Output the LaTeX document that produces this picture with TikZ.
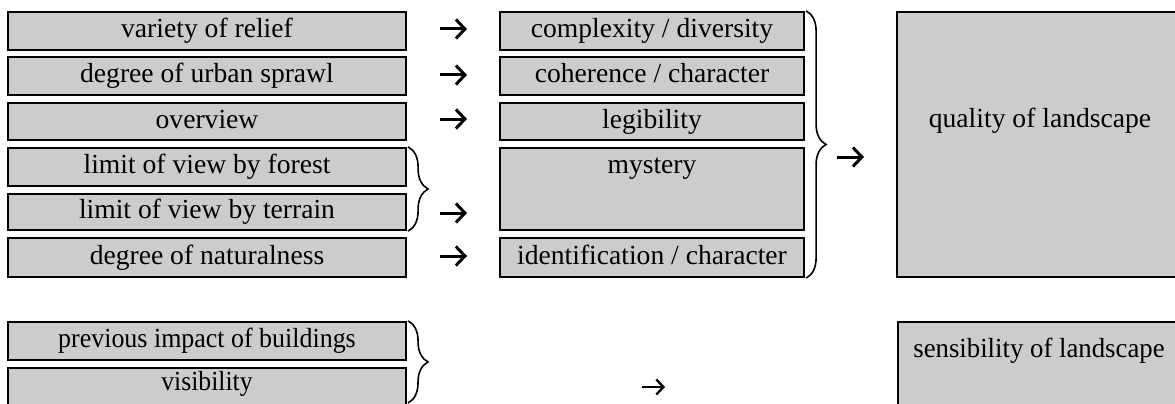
\documentclass[tikz,border=0pt]{standalone}
\usepackage{fontspec}
\setmainfont{Liberation Serif}
\usepackage{graphicx}
\usetikzlibrary{arrows.meta,decorations.pathreplacing}
\definecolor{cellgray}{gray}{0.8}
\begin{document}
\begin{tikzpicture}[x=1pt,y=-1pt,
  txt/.style={inner sep=0pt, text height=19pt, text depth=6pt,
              font=\fontsize{27.6}{32}\selectfont},
  cell/.style={txt, draw=black, line width=2.2pt, fill=cellgray},
  lcell/.style={cell, minimum width=398pt},
  mcell/.style={cell, minimum width=304pt},
  flow/.style={line width=3pt, -{Straight Barb[length=9pt,width=19pt,line width=3pt]}},
  smallflow/.style={line width=2.4pt, -{Straight Barb[length=7pt,width=15pt,line width=2.4pt]}},
  curly/.style={decorate, decoration={brace, amplitude=20pt}, line width=1.6pt}]
\useasboundingbox (0,0) rectangle (1175,404);
\clip (0,0) rectangle (1175,404);

% indicators (left column)
\node[lcell, minimum height=38pt] (relief)  at (207,31)    {variety of relief};
\node[lcell, minimum height=38pt] (sprawl)  at (207,76)    {degree of urban sprawl};
\node[lcell, minimum height=37pt] (overview) at (207,121.5) {overview};
\node[lcell, minimum height=38pt] (forest)  at (207,167)   {limit of view by forest};
\node[lcell, minimum height=36pt] (terrain) at (207,212)   {limit of view by terrain};
\node[lcell, minimum height=39pt] (natural) at (207,257.5) {degree of naturalness};

% criteria (middle column)
\node[mcell, minimum height=38pt] (complexity) at (652,31)    {complexity / diversity};
\node[mcell, minimum height=38pt] (coherence)  at (652,76)    {coherence / character};
\node[mcell, minimum height=37pt] (legibility) at (652,121.5) {legibility};
\node[mcell, minimum height=82pt] (mystery)    at (652,189)   {};
\node[txt] (mysterytext) at (652,167) {mystery};
\node[mcell, minimum height=39pt] (identification) at (652,257.5) {identification / character};

% results (right column)
\node[cell, minimum width=288pt, minimum height=265pt] (quality) at (1041,144.5) {};
\node[txt] (qualitytext) at (1040,121) {quality of landscape};
\node[cell, minimum width=287pt, minimum height=98pt] (sensibility) at (1041.5,371) {};
\node[txt] (sensibilitytext) at (1039,350.5) {\scalebox{0.97}[1]{sensibility of landscape}};

% lower group
\node[lcell, minimum height=38pt] (previous)   at (207,341) {\scalebox{0.94}[1]{previous impact of buildings}};
\node[lcell, minimum height=40pt] (visibility) at (207,388) {};
\node[txt] (visibilitytext) at (207,384) {\scalebox{0.93}[1]{visibility}};

% arrows
\coordinate (a1s) at (440,29);  \coordinate (a1e) at (467,29);
\coordinate (a2s) at (440,75);  \coordinate (a2e) at (467,75);
\coordinate (a3s) at (440,119); \coordinate (a3e) at (467,119);
\coordinate (a5s) at (440,213); \coordinate (a5e) at (467,213);
\coordinate (a6s) at (440,256); \coordinate (a6e) at (467,256);
\coordinate (aqs) at (837,157); \coordinate (aqe) at (864,157);
\coordinate (abs) at (642,387); \coordinate (abe) at (665,387);
\draw[flow] (a1s) -- (a1e);
\draw[flow] (a2s) -- (a2e);
\draw[flow] (a3s) -- (a3e);
\draw[flow] (a5s) -- (a5e);
\draw[flow] (a6s) -- (a6e);
\draw[flow] (aqs) -- (aqe);
\draw[smallflow] (abs) -- (abe);

% braces
\coordinate (bbottom) at (408,403);
\draw[curly] ([xshift=1pt]forest.north east) -- ([xshift=1pt]terrain.south east);
\draw[curly] ([xshift=1pt]complexity.north east) -- ([xshift=1pt]identification.south east);
\draw[curly] ([xshift=1pt]previous.north east) -- (bbottom);
\end{tikzpicture}
\end{document}
